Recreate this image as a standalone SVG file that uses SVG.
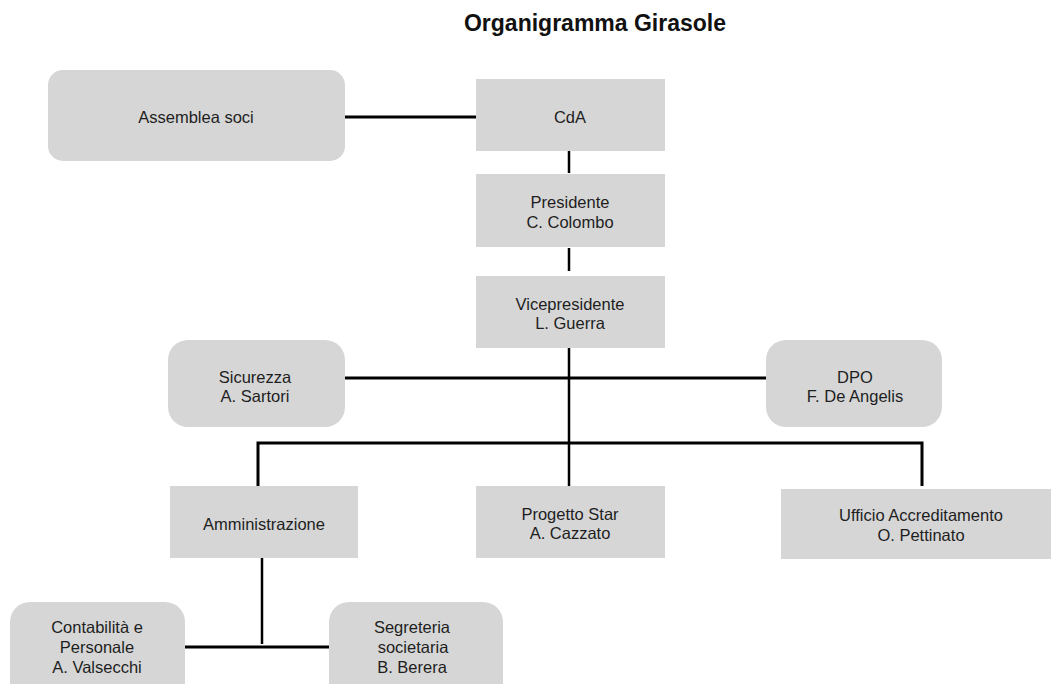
<svg xmlns="http://www.w3.org/2000/svg" width="1051" height="684" viewBox="0 0 1051 684">
<style>
.box{fill:#d6d6d6;}
.t{font-family:"Liberation Sans",Arial,Helvetica,sans-serif;font-size:16.5px;fill:#1e1e1e;text-anchor:middle;}
.title{font-family:"Liberation Sans",Arial,Helvetica,sans-serif;font-size:23px;font-weight:bold;fill:#111;text-anchor:middle;}
.c{stroke:#000;stroke-width:3;fill:none;}
.c2{stroke:#000;stroke-width:2.5;fill:none;}
</style>
<rect width="1051" height="684" fill="#fff"/>
<text class="title" x="595" y="31">Organigramma Girasole</text>
<g id="connectors">
<line class="c" x1="345" y1="117" x2="477" y2="117"/>
<line class="c2" x1="569" y1="151" x2="569" y2="173"/>
<line class="c2" x1="569" y1="248" x2="569" y2="271"/>
<line class="c2" x1="569" y1="348" x2="569" y2="486"/>
<line class="c" x1="345" y1="378" x2="766" y2="378"/>
<polyline class="c" points="258,486 258,443 922,443 922,486"/>
<line class="c2" x1="262" y1="558" x2="262" y2="644"/>
<line class="c" x1="185" y1="647" x2="329" y2="647"/>
</g>
<g id="assemblea"><rect class="box" x="48" y="70" width="297" height="91" rx="15"/><text class="t" x="196" y="123">Assemblea soci</text></g>
<g id="cda"><rect class="box" x="476" y="79" width="189" height="72"/><text class="t" x="570" y="123">CdA</text></g>
<g id="presidente"><rect class="box" x="476" y="174" width="189" height="73"/><text class="t" x="570" y="208">Presidente</text><text class="t" x="570" y="228">C. Colombo</text></g>
<g id="vicepresidente"><rect class="box" x="476" y="276" width="189" height="72"/><text class="t" x="570" y="310">Vicepresidente</text><text class="t" x="570" y="329">L. Guerra</text></g>
<g id="sicurezza"><rect class="box" x="168" y="340" width="177" height="87" rx="20"/><text class="t" x="255" y="383">Sicurezza</text><text class="t" x="255" y="402">A. Sartori</text></g>
<g id="dpo"><rect class="box" x="766" y="340" width="176" height="87" rx="20"/><text class="t" x="855" y="383">DPO</text><text class="t" x="855" y="402">F. De Angelis</text></g>
<g id="amministrazione"><rect class="box" x="170" y="486" width="188" height="72"/><text class="t" x="264" y="530">Amministrazione</text></g>
<g id="progetto"><rect class="box" x="476" y="486" width="189" height="72"/><text class="t" x="570" y="520">Progetto Star</text><text class="t" x="570" y="539">A. Cazzato</text></g>
<g id="ufficio"><rect class="box" x="781" y="489" width="280" height="70"/><text class="t" x="921" y="521">Ufficio Accreditamento</text><text class="t" x="921" y="541">O. Pettinato</text></g>
<g id="contabilita"><rect class="box" x="10" y="602" width="175" height="100" rx="20"/><text class="t" x="97" y="633">Contabilità e</text><text class="t" x="97" y="653">Personale</text><text class="t" x="97" y="673">A. Valsecchi</text></g>
<g id="segreteria"><rect class="box" x="329" y="602" width="174" height="100" rx="20"/><text class="t" x="412" y="633">Segreteria</text><text class="t" x="413" y="653">societaria</text><text class="t" x="412" y="673">B. Berera</text></g>
</svg>
